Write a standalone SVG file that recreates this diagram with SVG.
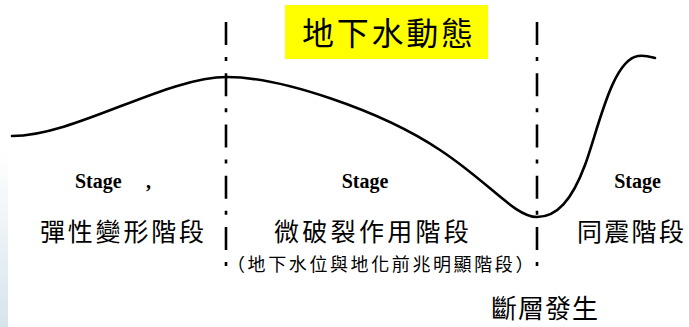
<svg xmlns="http://www.w3.org/2000/svg" width="689" height="327" viewBox="0 0 689 327">
  <defs>
    <linearGradient id="edge" x1="0" y1="0" x2="0" y2="1">
      <stop offset="0" stop-color="#ffffff"/>
      <stop offset="1" stop-color="#d6e4ec"/>
    </linearGradient>
    <style>
      .cjk { font-family: "Noto Sans CJK TC", "Noto Sans CJK SC", sans-serif; fill: #000; }
      .stage { font-family: "Liberation Serif", serif; font-weight: bold; font-size: 20px; fill: #000; }
      .divider { stroke: #000; stroke-width: 2.6; fill: none; stroke-dasharray: 23 12 4 12.25; }
      .curve { stroke: #000; stroke-width: 2.6; fill: none; stroke-linecap: round; }
    </style>
  </defs>
  <rect x="0" y="0" width="689" height="327" fill="#ffffff"/>
  <rect x="0" y="150" width="8" height="177" fill="url(#edge)"/>

  <g id="title">
    <rect x="285" y="5" width="203" height="54" fill="#ffff00"/>
    <text class="cjk" x="302" y="45" font-size="32" letter-spacing="2.75">地下水動態</text>
  </g>

  <g id="connectors">
    <path class="divider" d="M226 22 V268"/>
    <path class="divider" d="M537 22 V268"/>
    <path class="curve" d="M12 136 C75 136 165 77 227 77 C280 77 380 110 440 150 C490 183 515 217 537 217 C557 217 572 200 585 165 C598 130 612 60 638 56 C646 55 651 57 655 58"/>
  </g>

  <g id="stage1">
    <text class="stage" x="75" y="188">Stage<tspan x="146">,</tspan></text>
    <text class="cjk" x="40" y="241" font-size="25" letter-spacing="2.8">彈性變形階段</text>
  </g>

  <g id="stage2">
    <text class="stage" x="365" y="188" text-anchor="middle">Stage</text>
    <text class="cjk" x="274" y="240.5" font-size="25" letter-spacing="3.3">微破裂作用階段</text>
    <text class="cjk" x="227" y="271" font-size="18" letter-spacing="2.6">（地下水位與地化前兆明顯階段）</text>
  </g>

  <g id="stage3">
    <text class="stage" x="637.5" y="188" text-anchor="middle">Stage</text>
    <text class="cjk" x="577" y="241" font-size="25" letter-spacing="2.3">同震階段</text>
  </g>

  <g id="fault">
    <text class="cjk" x="491" y="318" font-size="26" letter-spacing="1">斷層發生</text>
  </g>
</svg>
